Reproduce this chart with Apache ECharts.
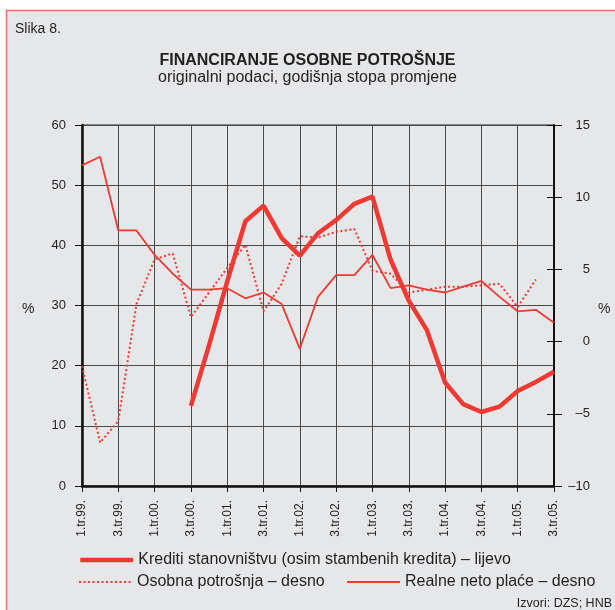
<!DOCTYPE html>
<html>
<head>
<meta charset="utf-8">
<script src="https://cdn.jsdelivr.net/npm/echarts@6/dist/echarts.min.js"></script>
<style>
  html, body { margin: 0; padding: 0; background: #fff; }
  #chart { width: 615px; height: 610px; }
</style>
</head>
<body>
<div id="chart"></div>
<script>
// quarters 1.tr.99. .. 3.tr.05.
const categories = [
  '1.tr.99.', '2.tr.99.', '3.tr.99.', '4.tr.99.',
  '1.tr.00.', '2.tr.00.', '3.tr.00.', '4.tr.00.',
  '1.tr.01.', '2.tr.01.', '3.tr.01.', '4.tr.01.',
  '1.tr.02.', '2.tr.02.', '3.tr.02.', '4.tr.02.',
  '1.tr.03.', '2.tr.03.', '3.tr.03.', '4.tr.03.',
  '1.tr.04.', '2.tr.04.', '3.tr.04.', '4.tr.04.',
  '1.tr.05.', '2.tr.05.', '3.tr.05.'
]

// lijevo (%)
const krediti = [
  null, null, null, null, null, null,
  13.3, 23.4, 34.0, 44.0, 46.6, 41.2,
  38.3, 42.0, 44.2, 46.9, 48.1, 37.6,
  30.8, 25.9, 17.2, 13.6, 12.3, 13.2,
  15.8, 17.3, 19.0
]

// desno (%)
const osobnaPotrosnja = [
  -1.7, -7.0, -5.5, 2.6, 5.7, 6.1,
  1.7, 3.4, 5.1, 6.7, 2.1, 4.0,
  7.3, 7.2, 7.6, 7.8, 4.9, 4.7,
  3.4, 3.6, 3.8, 3.8, 3.9, 4.0,
  2.4, 4.3, null
]

const realnePlace = [
  12.2, 12.8, 7.7, 7.7, 6.0, 4.7,
  3.6, 3.6, 3.7, 3.0, 3.4, 2.6,
  -0.5, 3.1, 4.6, 4.6, 6.0, 3.7,
  3.9, 3.6, 3.4, 3.8, 4.2, 3.1,
  2.1, 2.2, 1.3
]

const seriesNames = [
  'Krediti stanovništvu (osim stambenih kredita) – lijevo',
  'Osobna potrošnja – desno',
  'Realne neto plaće – desno'
]

const red = '#ee3a32'
const ink = '#231f20'
const gridColor = '#4a4a4a'
const font = 'Liberation Sans, Arial, Helvetica, sans-serif'

const chart = echarts.init(document.getElementById('chart'))

const rightLabel = v => (v < 0 ? '–' + Math.abs(v) : String(v))

// one legend per entry so each can sit where the original has it
const legendAt = (name, left, top, lineStyle) => ({
  data: [name],
  left: left, top: top,
  padding: 0,
  itemWidth: 53, itemHeight: 14,
  itemStyle: { opacity: 0 },
  lineStyle: lineStyle,
  textStyle: { fontFamily: font, fontSize: 16, color: ink }
})

const option = {
  backgroundColor: '#ffffff',
  animation: false,
  textStyle: { fontFamily: font, color: ink },
  graphic: [
    {
      type: 'rect',
      z: -10,
      silent: true,
      shape: { x: 6.5, y: 10.5, width: 620, height: 620 },
      style: { fill: '#e6e7e9', stroke: '#f2746c', lineWidth: 1.5 }
    },
    {
      type: 'text', left: 15, top: 22,
      style: { text: 'Slika 8.', font: '14px ' + font, fill: ink }
    },
    {
      type: 'text', left: 22, top: 302,
      style: { text: '%', font: '14px ' + font, fill: ink }
    },
    {
      type: 'text', left: 598, top: 302,
      style: { text: '%', font: '14px ' + font, fill: ink }
    },
    {
      type: 'text', right: 3, top: 597,
      style: { text: 'Izvori: DZS; HNB', font: '12.5px ' + font, fill: ink }
    }
  ],
  title: {
    text: 'FINANCIRANJE OSOBNE POTROŠNJE',
    subtext: 'originalni podaci, godišnja stopa promjene',
    left: 'center',
    top: 53,
    itemGap: 1,
    padding: 0,
    textStyle: { fontFamily: font, fontSize: 16, fontWeight: 'bold', color: ink },
    subtextStyle: { fontFamily: font, fontSize: 16, color: ink }
  },
  legend: [
    legendAt(seriesNames[0], 78, 552, { width: 4.5 }),
    legendAt(seriesNames[1], 78, 574, { width: 2, type: [2, 2.5] }),
    legendAt(seriesNames[2], 346, 574, { width: 2 })
  ],
  grid: {
    left: 82, right: 61, top: 125, bottom: 124,
    show: true,
    borderColor: '#222',
    borderWidth: 1,
    backgroundColor: 'transparent'
  },
  xAxis: {
    type: 'category',
    data: categories,
    boundaryGap: false,
    axisLine: { lineStyle: { color: '#111', width: 2.5 } },
    axisTick: { interval: 1, length: 6, lineStyle: { color: '#111' } },
    axisLabel: { interval: 1, rotate: 90, margin: 14, fontSize: 12, color: ink, fontFamily: font },
    splitLine: { show: true, interval: 1, lineStyle: { color: gridColor, width: 1 } }
  },
  yAxis: [
    {
      type: 'value',
      min: 0, max: 60, interval: 10,
      axisLine: { show: true, lineStyle: { color: '#111', width: 2.5 } },
      axisTick: { show: true, length: 7, lineStyle: { color: '#111' } },
      axisLabel: { margin: 16, fontSize: 13, color: ink, fontFamily: font },
      splitLine: { show: true, lineStyle: { color: gridColor, width: 1 } }
    },
    {
      type: 'value',
      position: 'right',
      min: -10, max: 15, interval: 5,
      axisLine: { show: true, lineStyle: { color: '#111', width: 2 } },
      axisTick: { show: true, length: 8, lineStyle: { color: '#111' } },
      axisLabel: { align: 'right', margin: 36, fontSize: 13, color: ink, fontFamily: font, formatter: rightLabel },
      splitLine: { show: false }
    },
    {
      // same right scale, ticks pointing inward
      type: 'value',
      position: 'right',
      min: -10, max: 15, interval: 5,
      axisLine: { show: false },
      axisTick: { show: true, inside: true, length: 7, lineStyle: { color: '#111' } },
      axisLabel: { show: false },
      splitLine: { show: false }
    }
  ],
  series: [
    {
      name: seriesNames[0],
      type: 'line',
      yAxisIndex: 0,
      data: krediti,
      symbol: 'none',
      z: 5,
      lineStyle: { color: red, width: 4.5 },
      itemStyle: { color: red }
    },
    {
      name: seriesNames[1],
      type: 'line',
      yAxisIndex: 1,
      data: osobnaPotrosnja,
      symbol: 'none',
      z: 3,
      lineStyle: { color: red, width: 2, type: [2, 2.5] },
      itemStyle: { color: red }
    },
    {
      name: seriesNames[2],
      type: 'line',
      yAxisIndex: 1,
      data: realnePlace,
      symbol: 'none',
      z: 4,
      lineStyle: { color: red, width: 1.8 },
      itemStyle: { color: red }
    }
  ]
}

chart.setOption(option)
</script>
</body>
</html>
